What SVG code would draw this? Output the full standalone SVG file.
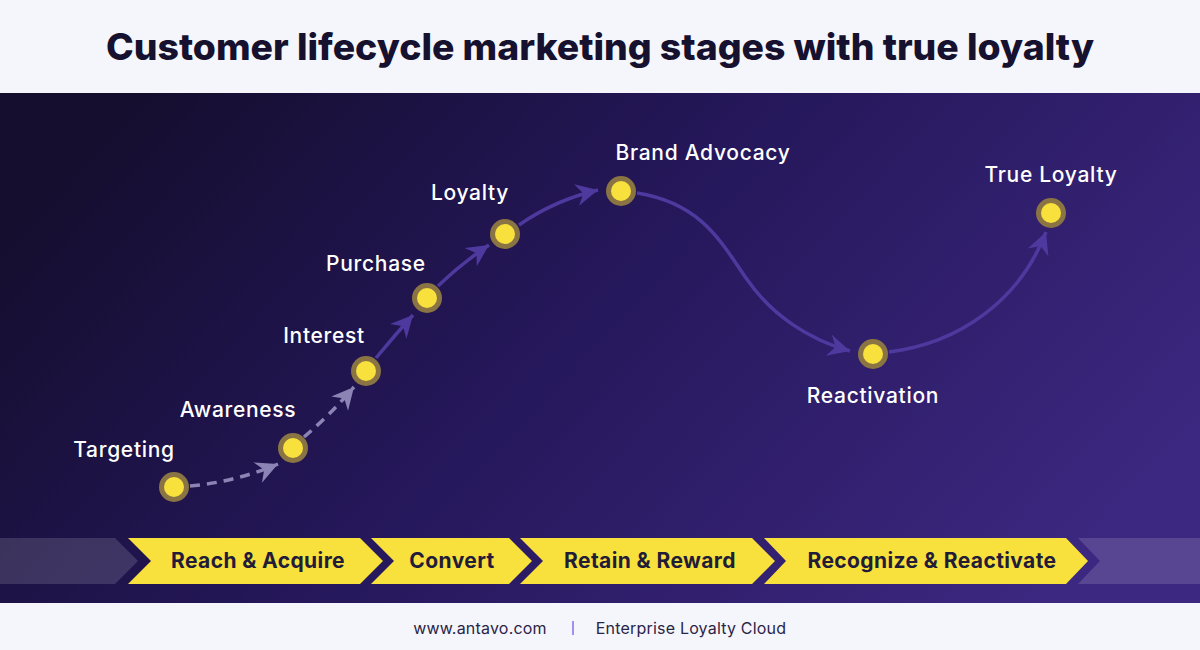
<svg xmlns="http://www.w3.org/2000/svg" width="1200" height="650" viewBox="0 0 1200 650">
<defs>
<linearGradient id="bg" x1="0" y1="0.3" x2="1" y2="0.7">
<stop offset="0" stop-color="#150e2f"/>
<stop offset="0.45" stop-color="#25175a"/>
<stop offset="1" stop-color="#3d2881"/>
</linearGradient>
<marker id="arrS" markerUnits="userSpaceOnUse" markerWidth="26" markerHeight="26" viewBox="-24 -13 26 26" refX="0" refY="0" orient="auto">
<path d="M0 0 L-22 -11 L-15 0 L-22 11 Z" fill="#4e3a9e"/>
</marker>
<marker id="arrD" markerUnits="userSpaceOnUse" markerWidth="26" markerHeight="26" viewBox="-24 -13 26 26" refX="0" refY="0" orient="auto">
<path d="M0 0 L-22 -11 L-15 0 L-22 11 Z" fill="#8c84b4"/>
</marker>
</defs>
<style>
.title{font-family:"Inter","Liberation Sans",sans-serif;font-weight:800;font-size:37px;fill:#16112e}
.lbl{font-family:"Inter","Liberation Sans",sans-serif;font-weight:500;font-size:21px;letter-spacing:0.7px;fill:#ffffff}
.stage{font-family:"Inter","Liberation Sans",sans-serif;font-weight:700;font-size:21px;letter-spacing:0.4px;fill:#221c38}
.foot{font-family:"Inter","Liberation Sans",sans-serif;font-weight:400;font-size:16px;letter-spacing:0.2px;fill:#2a2447}
.ring{fill:#8a7443}
.core{fill:#f8e13c}
.chev{fill:#f8e13c}
.ghost{fill:#ffffff;fill-opacity:0.14}
.solid{fill:none;stroke:#4e3a9e;stroke-width:3.5;marker-end:url(#arrS)}
.dash{fill:none;stroke:#8c84b4;stroke-width:3.5;stroke-dasharray:10 7;marker-end:url(#arrD)}
</style>
<rect x="0" y="0" width="1200" height="650" fill="#f5f6fb"/>
<text class="title" x="600" y="60" text-anchor="middle" textLength="988" lengthAdjust="spacingAndGlyphs">Customer lifecycle marketing stages with true loyalty</text>
<rect x="0" y="93" width="1200" height="510" fill="url(#bg)"/>

<g id="stages">
<polygon class="ghost" points="0,538 115,538 138,561 115,584 0,584"/>
<g id="stage-reach">
<polygon class="chev" points="128,538 360,538 383,561 360,584 128,584 151,561"/>
<text class="stage" x="258" y="568" text-anchor="middle">Reach &amp; Acquire</text>
</g>
<g id="stage-convert">
<polygon class="chev" points="371,538 509,538 532,561 509,584 371,584 394,561"/>
<text class="stage" x="452" y="568" text-anchor="middle">Convert</text>
</g>
<g id="stage-retain">
<polygon class="chev" points="520,538 752,538 775,561 752,584 520,584 543,561"/>
<text class="stage" x="650" y="568" text-anchor="middle">Retain &amp; Reward</text>
</g>
<g id="stage-recognize">
<polygon class="chev" points="764,538 1066,538 1088,561 1066,584 764,584 786,561"/>
<text class="stage" x="932" y="568" text-anchor="middle">Recognize &amp; Reactivate</text>
</g>
<polygon class="ghost" points="1078,538 1200,538 1200,584 1078,584 1100,561"/>
</g>

<g id="connectors">
<path class="dash" d="M190 486 Q235 482 278 464"/>
<path class="dash" d="M304 437 Q330 415 354 387"/>
<path class="solid" d="M376 358 Q395 335 413 315"/>
<path class="solid" d="M438 286 Q462 263 489 245"/>
<path class="solid" d="M519 225 Q555 200 598 190"/>
<path class="solid" d="M637 193 C700 203 720 240 746 278 S810 340 850 351"/>
<path class="solid" d="M889 352 C960 343 1020 300 1046 232"/>
</g>

<g id="node-targeting">
<circle class="ring" cx="174" cy="487" r="15"/><circle class="core" cx="174" cy="487" r="10"/>
<text class="lbl" x="124" y="457" text-anchor="middle">Targeting</text>
</g>
<g id="node-awareness">
<circle class="ring" cx="293" cy="448" r="15"/><circle class="core" cx="293" cy="448" r="10"/>
<text class="lbl" x="238" y="417" text-anchor="middle">Awareness</text>
</g>
<g id="node-interest">
<circle class="ring" cx="366" cy="371" r="15"/><circle class="core" cx="366" cy="371" r="10"/>
<text class="lbl" x="324" y="343" text-anchor="middle">Interest</text>
</g>
<g id="node-purchase">
<circle class="ring" cx="427" cy="298" r="15"/><circle class="core" cx="427" cy="298" r="10"/>
<text class="lbl" x="376" y="271" text-anchor="middle">Purchase</text>
</g>
<g id="node-loyalty">
<circle class="ring" cx="505" cy="234" r="15"/><circle class="core" cx="505" cy="234" r="10"/>
<text class="lbl" x="470" y="200" text-anchor="middle">Loyalty</text>
</g>
<g id="node-brand">
<circle class="ring" cx="621" cy="191" r="15"/><circle class="core" cx="621" cy="191" r="10"/>
<text class="lbl" x="703" y="160" text-anchor="middle">Brand Advocacy</text>
</g>
<g id="node-reactivation">
<circle class="ring" cx="873" cy="354" r="15"/><circle class="core" cx="873" cy="354" r="10"/>
<text class="lbl" x="873" y="403" text-anchor="middle">Reactivation</text>
</g>
<g id="node-true-loyalty">
<circle class="ring" cx="1051" cy="213" r="15"/><circle class="core" cx="1051" cy="213" r="10"/>
<text class="lbl" x="1051" y="182" text-anchor="middle">True Loyalty</text>
</g>

<g id="footer">
<text class="foot" x="480" y="634" text-anchor="middle">www.antavo.com</text>
<rect x="572" y="621" width="2" height="14" fill="#a48ff0"/>
<text class="foot" x="691" y="634" text-anchor="middle">Enterprise Loyalty Cloud</text>
</g>
</svg>
